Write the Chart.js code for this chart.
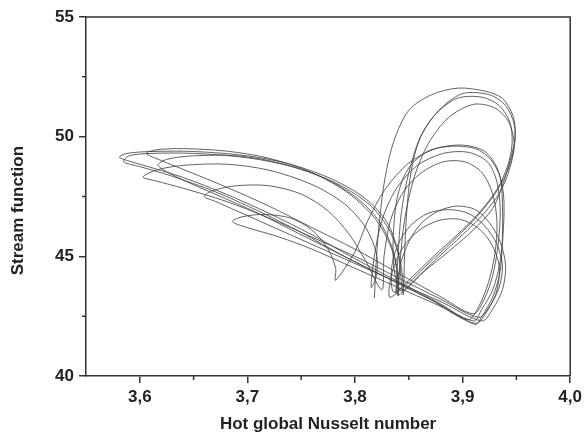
<!DOCTYPE html>
<html>
<head>
<meta charset="utf-8">
<script src="https://cdn.jsdelivr.net/npm/chart.js@4.4.1/dist/chart.umd.min.js"></script>
<style>
  html, body { margin: 0; padding: 0; background: #fff; }
</style>
</head>
<body>
<canvas id="chart" width="586" height="439"></canvas>
<script>
// Axis ticks
const xTicks = [3.6, 3.7, 3.8, 3.9, 4.0];
const xMinor = [3.65, 3.75, 3.85, 3.95];
const yTicks = [40, 45, 50, 55];
const yMinor = [42.5, 47.5, 52.5];

// Phase trajectory (one line per excursion)
const nusselt = [
  3.818,3.820,3.823,3.828,3.836,3.850,3.871,3.896,3.921,3.937,3.947,3.949,3.945,3.938,3.928,3.910,3.887,3.865,3.843,
  3.836,3.836,3.840,3.850,3.868,3.890,3.912,3.926,3.935,3.937,3.937,3.935,3.928,3.918,3.912,
  3.88,3.84,3.80,3.76,3.72,3.68,3.64,3.60,3.585,3.581,3.588,3.61,3.65,3.70,3.74,3.78,3.81,3.83,3.84,3.843,3.845,
  3.846,3.848,3.852,3.860,3.874,3.895,3.918,3.934,3.944,3.946,3.942,3.932,3.915,3.895,3.873,3.852,3.836,
  3.834,3.840,3.852,3.868,3.887,3.905,3.920,3.932,3.937,3.934,3.925,3.915,
  3.88,3.84,3.80,3.76,3.72,3.68,3.64,3.615,3.603,3.615,3.64,3.68,3.72,3.76,3.79,3.81,3.82,3.82,3.815,
  3.818,3.825,3.838,3.858,3.882,3.905,3.923,3.932,3.935,3.933,3.928,3.920,3.910,
  3.88,3.84,3.80,3.76,3.72,3.68,3.645,3.62,3.606,3.615,3.64,3.68,3.72,3.76,3.795,3.82,3.835,3.84,3.84,
  3.842,3.846,3.855,3.868,3.887,3.910,3.930,3.943,3.948,3.944,3.935,3.920,3.900,3.876,3.855,3.840,
  3.842,3.850,3.862,3.878,3.895,3.912,3.925,3.935,3.940,3.937,3.928,3.918,
  3.88,3.84,3.80,3.76,3.72,3.69,3.67,3.660,3.668,3.69,3.72,3.75,3.775,3.795,3.81,3.825,
  3.827,3.833,3.845,3.862,3.882,3.902,3.918,3.928,3.932,3.930,3.924,3.915,3.905,
  3.87,3.83,3.79,3.75,3.71,3.67,3.635,3.617,3.625,3.65,3.69,3.73,3.77,3.80,3.822,3.835,3.84,3.838,
  3.840,3.843,3.850,3.861,3.878,3.900,3.925,3.940,3.948,3.948,3.942,3.930,3.912,3.890,3.866,3.845,3.832,
  3.835,3.845,3.860,3.878,3.897,3.914,3.927,3.934,3.932,3.924,3.912,
  3.88,3.85,3.82,3.79,3.76,3.73,3.70,3.686,3.695,3.715,3.74,3.76,3.775,3.782,3.782,
  3.800,3.812,3.828,3.850,3.875,3.900,3.920,3.932,3.938,3.938,3.935,3.928,3.918,3.910,
  3.87,3.83,3.79,3.75,3.71,3.67,3.63,3.60,3.585,3.59,3.61,3.65,3.70,3.745,3.785,3.815,3.833,3.842,3.845
];
const stream = [
  43.25,45.0,46.6,48.3,49.8,51.1,51.75,52.03,51.9,51.6,50.85,50.0,49.15,48.1,47.0,46.1,45.2,44.4,43.55,
  44.6,46.2,47.6,48.7,49.4,49.6,49.5,49.05,48.3,47.2,45.8,44.4,43.3,42.5,42.15,
  43.0,43.95,44.9,45.9,46.8,47.6,48.3,48.85,49.05,49.15,49.3,49.38,49.38,49.2,48.85,48.2,47.4,46.4,45.2,44.0,43.4,
  45.0,46.8,48.5,49.9,50.9,51.6,51.65,51.3,50.6,49.7,48.8,47.8,46.8,45.9,45.0,44.1,43.5,
  44.5,45.5,46.3,46.8,46.95,46.8,46.3,45.5,44.6,43.7,42.9,42.45,
  43.2,44.1,45.0,45.8,46.6,47.3,47.85,48.15,48.31,48.6,48.8,48.85,48.6,48.0,47.2,46.2,45.1,44.2,43.7,
  45.0,46.5,47.8,48.8,49.3,49.35,48.95,48.1,46.9,45.5,44.2,43.2,42.6,
  43.3,44.3,45.3,46.2,47.1,47.9,48.55,49.0,49.3,49.45,49.5,49.4,49.1,48.5,47.6,46.5,45.2,44.0,43.35,
  44.8,46.5,48.3,49.7,50.8,51.35,51.2,50.6,49.7,48.7,47.7,46.8,45.9,44.9,44.0,43.4,
  44.6,45.6,46.4,46.9,47.1,46.95,46.4,45.6,44.6,43.6,42.8,42.3,
  43.1,43.9,44.7,45.5,46.3,46.9,47.3,47.5,47.75,47.95,47.95,47.6,46.9,45.9,44.8,43.6,
  45.0,46.5,47.7,48.5,48.95,48.95,48.5,47.6,46.4,45.1,43.9,42.9,42.35,
  43.2,44.1,45.0,45.9,46.8,47.6,48.3,48.8,49.05,49.2,49.2,48.9,48.3,47.5,46.5,45.3,44.1,43.45,
  45.0,46.8,48.5,50.0,51.1,51.8,51.75,51.3,50.5,49.6,48.6,47.6,46.6,45.6,44.6,43.7,43.3,
  44.4,45.4,46.1,46.5,46.55,46.2,45.5,44.6,43.6,42.8,42.2,
  42.9,43.5,44.1,44.7,45.3,45.8,46.2,46.45,46.65,46.75,46.6,46.1,45.3,44.5,44.0,
  45.2,46.5,47.8,48.9,49.5,49.65,49.4,48.7,47.6,46.2,44.8,43.6,42.8,42.3,
  43.2,44.1,45.0,46.0,46.9,47.7,48.35,48.75,48.95,49.2,49.3,49.3,49.12,48.7,48.0,47.1,46.0,44.8,43.8
];

const points = nusselt.map((x, i) => ({ x: x, y: stream[i] }));

const labelFont = { family: 'Liberation Sans, Arial, sans-serif', size: 17, weight: 'bold' };
const axisColor = '#333';
const textColor = '#222';

// Frame on top/right plus short minor ticks
const framePlugin = {
  id: 'frame',
  afterDraw(chart) {
    const { ctx, chartArea: a, scales: { x, y } } = chart;
    ctx.save();
    ctx.strokeStyle = axisColor;
    ctx.lineWidth = 1.5;
    ctx.beginPath();
    ctx.moveTo(a.left, a.top);
    ctx.lineTo(a.right, a.top);
    ctx.lineTo(a.right, a.bottom);
    xMinor.forEach(v => {
      const px = x.getPixelForValue(v);
      ctx.moveTo(px, a.bottom);
      ctx.lineTo(px, a.bottom + 4);
    });
    yMinor.forEach(v => {
      const py = y.getPixelForValue(v);
      ctx.moveTo(a.left, py);
      ctx.lineTo(a.left - 4, py);
    });
    ctx.stroke();
    ctx.restore();
  }
};

new Chart(document.getElementById('chart'), {
  type: 'scatter',
  data: {
    datasets: [{
      data: points,
      showLine: true,
      borderColor: 'rgba(70, 70, 70, 0.85)',
      borderWidth: 1,
      pointRadius: 0,
      tension: 0.3,
      fill: false
    }]
  },
  options: {
    responsive: false,
    animation: false,
    devicePixelRatio: 1,
    layout: { padding: { left: 0, right: 13, top: 17, bottom: 0 } },
    plugins: { legend: { display: false }, tooltip: { enabled: false } },
    scales: {
      x: {
        type: 'linear',
        min: 3.55,
        max: 4.0,
        afterBuildTicks: s => { s.ticks = xTicks.map(v => ({ value: v })); },
        afterFit: s => { s.height = 63; },
        ticks: {
          callback: v => v.toFixed(1).replace('.', ','),
          font: labelFont,
          color: textColor,
          padding: 4,
          maxRotation: 0,
          autoSkip: false
        },
        grid: { drawOnChartArea: false, tickLength: 7, color: axisColor, lineWidth: 1.5 },
        border: { color: axisColor, width: 1.5 },
        title: {
          display: true,
          text: 'Hot global Nusselt number',
          font: labelFont,
          color: textColor,
          padding: { top: 0, bottom: 4 }
        }
      },
      y: {
        type: 'linear',
        min: 40,
        max: 55,
        afterBuildTicks: s => { s.ticks = yTicks.map(v => ({ value: v })); },
        afterFit: s => { s.width = 86; },
        ticks: {
          callback: v => String(v),
          font: labelFont,
          color: textColor,
          padding: 5,
          autoSkip: false
        },
        grid: { drawOnChartArea: false, tickLength: 7, color: axisColor, lineWidth: 1.5 },
        border: { color: axisColor, width: 1.5 },
        title: {
          display: true,
          text: 'Stream function      ',
          font: labelFont,
          color: textColor,
          padding: { top: 8, bottom: 0 }
        }
      }
    }
  },
  plugins: [framePlugin]
});
</script>
</body>
</html>
